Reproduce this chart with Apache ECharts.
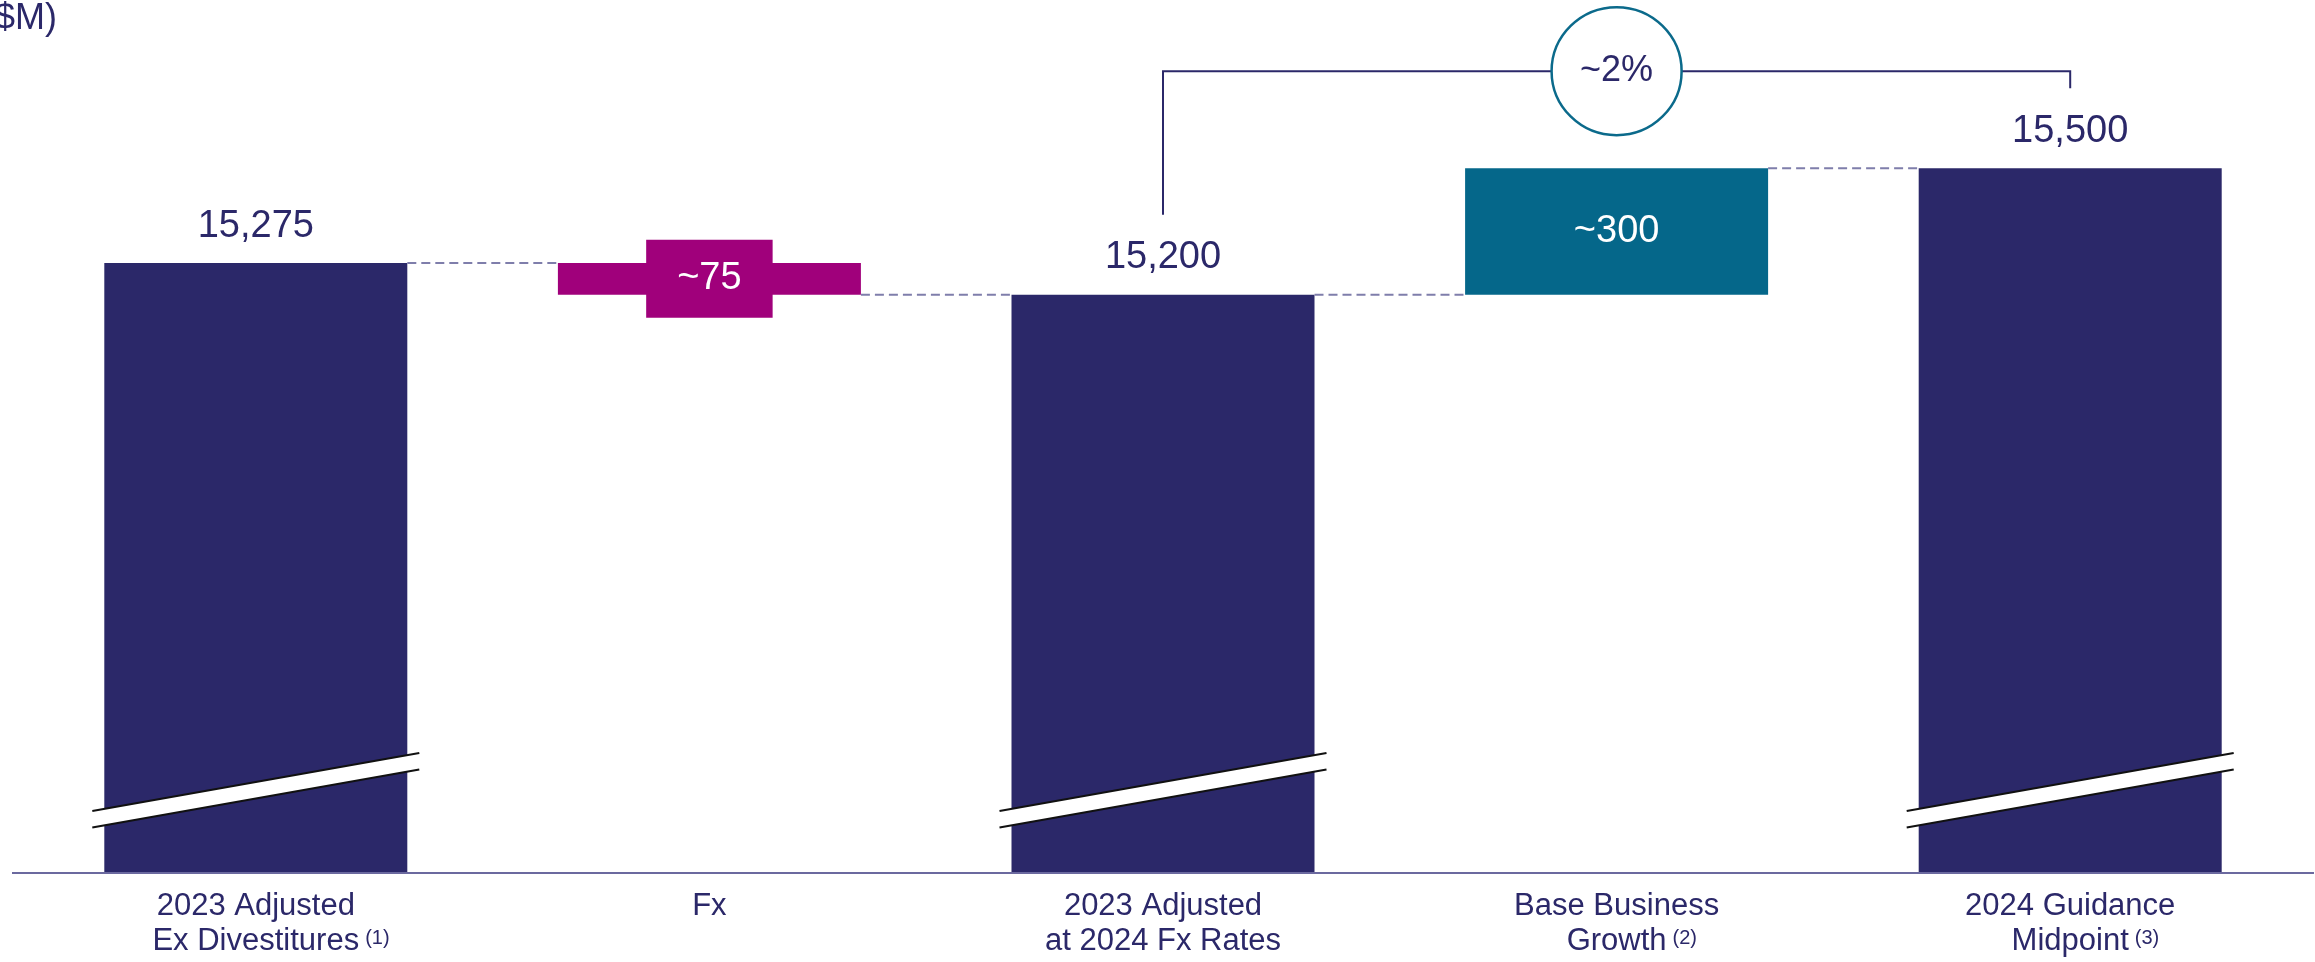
<!DOCTYPE html>
<html>
<head>
<meta charset="utf-8">
<title>Revenue bridge</title>
<script src="https://cdn.jsdelivr.net/npm/echarts@6/dist/echarts.min.js"></script>
<style>
  html, body { margin: 0; padding: 0; background: #ffffff; }
  #chart { width: 2315px; height: 962px; }
</style>
</head>
<body>
<div id="chart"></div>
<script>
// ---- data ----
const categories = [
  '2023 Adjusted\nEx Divestitures',
  'Fx',
  '2023 Adjusted\nat 2024 Fx Rates',
  'Base Business\nGrowth',
  '2024 Guidance\nMidpoint'
];
const footnotes = ['(1)', '', '', '(2)', '(3)'];
const totals = [15275, null, 15200, null, 15500];
const changes = [null, -75, null, 300, null];
const changeLabels = ['', '~75', '', '~300', ''];
const growthLabel = '~2%';
const unitLabel = '$M)';

// ---- look ----
const NAVY = '#2b2869';
const MAGENTA = '#a0007b';
const TEAL = '#05678a';
const DASH = '#7f7eab';
const AXIS = '#6b699f';
const FONT = "'Liberation Sans', Arial, sans-serif";
const BAR_RATIO = 0.668;
const Y_MIN = 13828;
const Y_MAX = 15899;

// running level for the waterfall
const levels = [];
let run = 0;
categories.forEach((c, i) => {
  if (totals[i] != null) run = totals[i];
  else run += changes[i];
  levels.push(run);
});

const baseData = categories.map((c, i) =>
  changes[i] != null ? Math.min(levels[i - 1], levels[i]) : '-');
const changeData = categories.map((c, i) =>
  changes[i] != null ? {
    value: Math.abs(changes[i]),
    itemStyle: { color: changes[i] < 0 ? MAGENTA : TEAL },
    label: changes[i] < 0 ? {
      backgroundColor: MAGENTA,
      padding: [20, 31]
    } : {}
  } : '-');
const totalData = totals.map(v => v != null ? v : '-');

// connectors between neighbouring bars: [from, to, level]
const connectors = [];
for (let i = 0; i < categories.length - 1; i++) {
  connectors.push([i, i + 1, levels[i]]);
}
// axis break marks on the full bars
const breakBars = totals.map((v, i) => v != null ? [i, Y_MIN] : null).filter(Boolean);
// growth bracket: from the start total to the end total
const bracket = [[2, totals[2], 4, totals[4]]];

function halfBar(api) {
  return api.size([1, 0])[0] * BAR_RATIO / 2;
}

const chart = echarts.init(document.getElementById('chart'), null, { renderer: 'canvas' });

const option = {
  animation: false,
  backgroundColor: '#ffffff',
  textStyle: { fontFamily: FONT },
  grid: { left: 29, right: 18, top: 0, bottom: 89 },
  xAxis: {
    type: 'category',
    data: categories,
    axisLine: { show: false },
    axisTick: { show: false },
    axisLabel: {
      interval: 0,
      margin: 16,
      fontSize: 31,
      lineHeight: 35,
      color: NAVY,
      fontFamily: FONT,
      formatter: (value, idx) => {
        const fn = footnotes[idx];
        if (!fn) return value;
        const lines = value.split('\n');
        const last = lines.pop();
        return lines.concat('{ghost|' + fn + '}' + last + '{sup|' + fn + '}').join('\n');
      },
      rich: {
        sup: { fontSize: 20, color: NAVY, fontFamily: FONT, padding: [0, 0, 6, 6], lineHeight: 35 },
        ghost: { fontSize: 20, color: 'rgba(0,0,0,0)', fontFamily: FONT, padding: [0, 6, 6, 0], lineHeight: 35 }
      }
    }
  },
  yAxis: {
    type: 'value',
    min: Y_MIN,
    max: Y_MAX,
    show: false,
    splitLine: { show: false }
  },
  series: [
    {
      name: 'base',
      type: 'bar',
      stack: 'bridge',
      barWidth: (BAR_RATIO * 100) + '%',
      itemStyle: { color: 'rgba(0,0,0,0)' },
      emphasis: { disabled: true },
      data: baseData
    },
    {
      name: 'change',
      type: 'bar',
      stack: 'bridge',
      barWidth: (BAR_RATIO * 100) + '%',
      label: {
        show: true,
        position: 'inside',
        color: '#ffffff',
        fontSize: 38,
        lineHeight: 38,
        fontFamily: FONT,
        formatter: p => changeLabels[p.dataIndex]
      },
      data: changeData
    },
    {
      name: 'total',
      type: 'bar',
      stack: 'bridge',
      barWidth: (BAR_RATIO * 100) + '%',
      itemStyle: { color: NAVY },
      label: {
        show: true,
        position: 'top',
        distance: 18,
        color: NAVY,
        fontSize: 38,
        fontFamily: FONT,
        formatter: p => Number(p.value).toLocaleString('en-US')
      },
      data: totalData
    },
    {
      name: 'connectors',
      type: 'custom',
      z: 3,
      encode: { x: 0, y: 2 },
      data: connectors,
      renderItem: (params, api) => {
        const h = halfBar(api);
        const a = api.coord([api.value(0), api.value(2)]);
        const b = api.coord([api.value(1), api.value(2)]);
        return {
          type: 'line',
          shape: { x1: a[0] + h, y1: a[1], x2: b[0] - h, y2: b[1] },
          style: { stroke: DASH, lineWidth: 2, lineDash: [9, 5] }
        };
      }
    },
    {
      name: 'breaks',
      type: 'custom',
      z: 4,
      encode: { x: 0, y: 1 },
      data: breakBars,
      renderItem: (params, api) => {
        const h = halfBar(api) + 12;
        const p = api.coord([api.value(0), api.value(1)]);
        const x0 = p[0] - h, x1 = p[0] + h;
        const yl = p[1] - 62, yr = p[1] - 120, gap = 16.5;
        return {
          type: 'group',
          children: [
            {
              type: 'polygon',
              shape: { points: [[x0, yl], [x1, yr], [x1, yr + gap], [x0, yl + gap]] },
              style: { fill: '#ffffff' }
            },
            {
              type: 'line',
              shape: { x1: x0, y1: yl, x2: x1, y2: yr },
              style: { stroke: '#111111', lineWidth: 2 }
            },
            {
              type: 'line',
              shape: { x1: x0, y1: yl + gap, x2: x1, y2: yr + gap },
              style: { stroke: '#111111', lineWidth: 2 }
            }
          ]
        };
      }
    },
    {
      name: 'growth',
      type: 'custom',
      z: 5,
      encode: { x: [0, 2], y: [1, 3] },
      data: bracket,
      renderItem: (params, api) => {
        const a = api.coord([api.value(0), api.value(1)]);
        const b = api.coord([api.value(2), api.value(3)]);
        const top = b[1] - 97;
        const mid = (a[0] + b[0]) / 2;
        return {
          type: 'group',
          children: [
            {
              type: 'polyline',
              shape: { points: [[a[0], a[1] - 80], [a[0], top], [b[0], top], [b[0], b[1] - 80]] },
              style: { stroke: NAVY, lineWidth: 2, fill: 'none' }
            },
            {
              type: 'ellipse',
              shape: { cx: mid, cy: top, rx: 65, ry: 64 },
              style: { fill: '#ffffff', stroke: '#0b6a8b', lineWidth: 2.5 }
            },
            {
              type: 'text',
              x: mid,
              y: top,
              style: {
                text: growthLabel,
                fill: NAVY,
                font: '36px ' + FONT,
                align: 'center',
                verticalAlign: 'middle'
              }
            }
          ]
        };
      }
    }
  ]
};

chart.setOption(option);

// baseline across the full width, at the bottom of the value axis
const baseY = chart.convertToPixel({ yAxisIndex: 0 }, Y_MIN);
chart.setOption({
  graphic: [
    {
      type: 'line',
      shape: { x1: 12, y1: baseY, x2: 2314, y2: baseY },
      style: { stroke: AXIS, lineWidth: 2 },
      z: 10
    },
    {
      type: 'text',
      left: -5,
      top: 1,
      style: {
        text: unitLabel,
        fill: NAVY,
        font: '36px ' + FONT
      }
    }
  ]
});
</script>
</body>
</html>
